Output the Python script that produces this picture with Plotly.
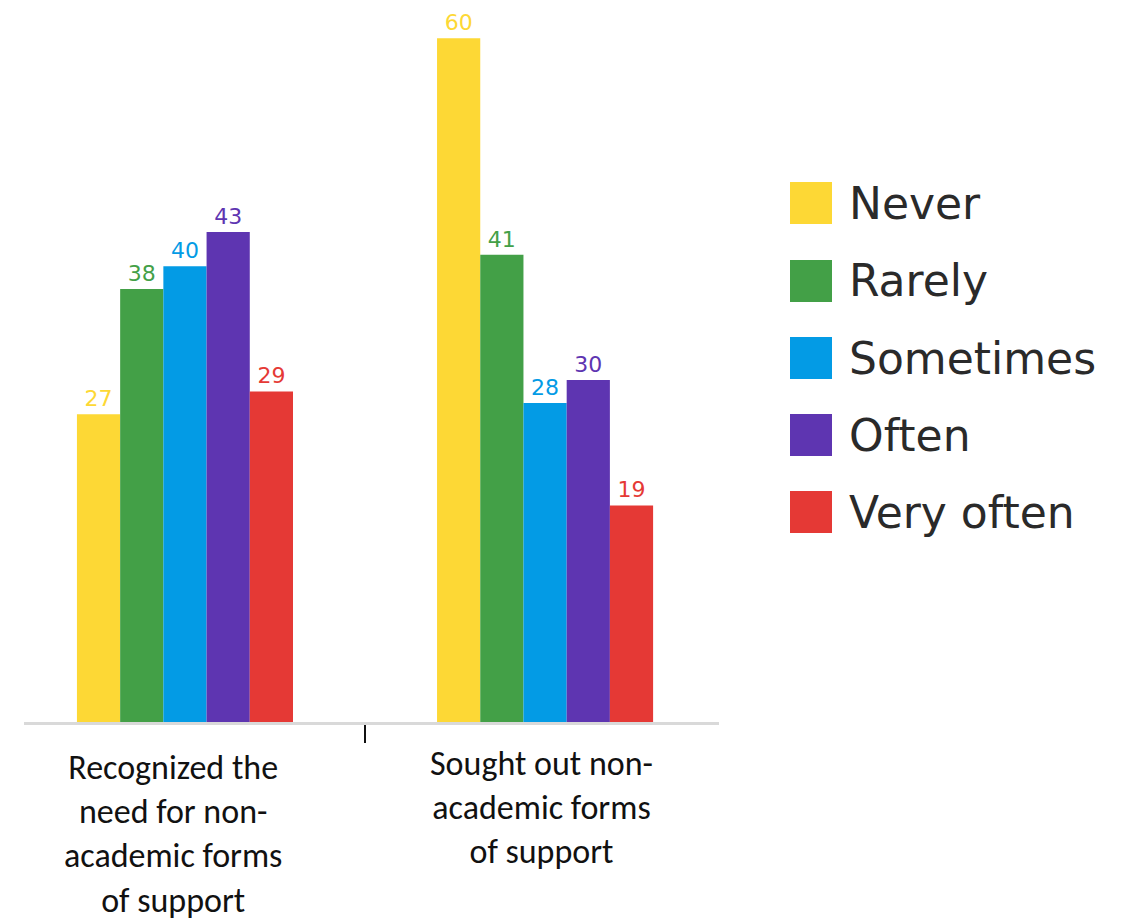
import plotly.graph_objects as go

# Survey responses (percent) for each frequency level
categories = [
    "Recognized the<br>need for non-<br>academic forms<br>of support",
    "Sought out non-<br>academic forms<br>of support",
]
series_names = ["Never", "Rarely", "Sometimes", "Often", "Very often"]
series_values = [
    [27, 60],  # Never
    [38, 41],  # Rarely
    [40, 28],  # Sometimes
    [43, 30],  # Often
    [29, 19],  # Very often
]
series_colors = ["#FDD835", "#43A047", "#039BE5", "#5E35B1", "#E53935"]

W, H = 1127, 923
PL, PR, PT, PB = 24, 719, 4, 722  # plot box in pixels


def px_x(p):
    return (p - PL) / (PR - PL)


def px_y(p):
    return (PB - p) / (PB - PT)


fig = go.Figure()
x_pos = list(range(len(categories)))
for name, vals, col in zip(series_names, series_values, series_colors):
    fig.add_trace(go.Bar(
        x=x_pos, y=vals, name=name,
        marker=dict(color=col, line=dict(width=0)),
        texttemplate="%{y}", textposition="outside",
        textfont=dict(family="DejaVu Sans", size=22, color=col),
        cliponaxis=False, showlegend=False,
    ))

# Category labels under each group
label_pos = [(-0.033, 745), (0.989, 741)]
for text, (lx, top) in zip(categories, label_pos):
    fig.add_annotation(
        x=lx, xref="x", y=px_y(top), yref="paper",
        text=text, showarrow=False, xanchor="center", yanchor="top",
        align="center",
        font=dict(family="Carlito, Calibri, Lato, sans-serif", size=34, color="#111111"),
    )

# Legend drawn as swatches with text
row_centers = [203, 281, 358, 435, 512]
for name, col, cy in zip(series_names, series_colors, row_centers):
    fig.add_shape(
        type="rect", xref="paper", yref="paper",
        x0=px_x(790), x1=px_x(832), y0=px_y(cy + 21), y1=px_y(cy - 21),
        fillcolor=col, line=dict(width=0),
    )
    fig.add_annotation(
        x=px_x(847), xref="paper", y=px_y(cy), yref="paper",
        text=name, showarrow=False, xanchor="left", yanchor="middle",
        font=dict(family="DejaVu Sans", size=44, color="#2a2a2a"),
    )

fig.update_layout(
    width=W, height=H,
    margin=dict(l=PL, r=W - PR, t=PT, b=H - PB, pad=0),
    paper_bgcolor="white", plot_bgcolor="white",
    barmode="group", bargap=0.4, bargroupgap=0,
    xaxis=dict(
        range=[-0.447, 1.483], showgrid=False, zeroline=False,
        showline=True, linecolor="#d9d9d9", linewidth=3,
        tickvals=[0.5], ticks="outside", ticklen=18, tickwidth=2,
        tickcolor="#111111", showticklabels=False,
    ),
    yaxis=dict(range=[0, 63], visible=False, showgrid=False, zeroline=False),
)

fig.write_html("out.html")
